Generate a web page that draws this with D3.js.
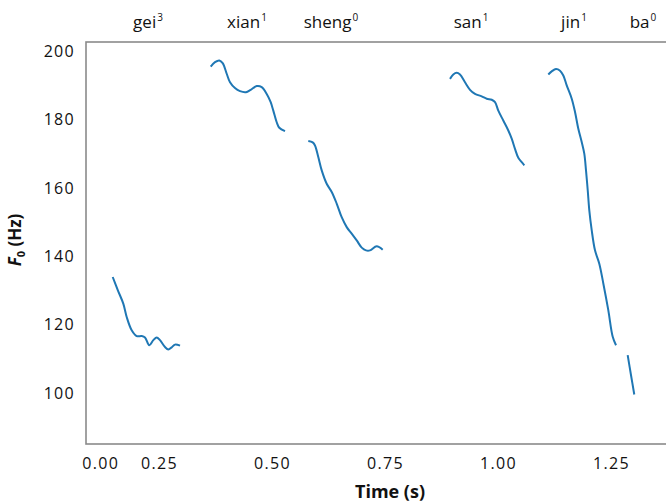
<!DOCTYPE html>
<html>
<head>
<meta charset="utf-8">
<script src="https://cdn.jsdelivr.net/npm/d3@7"></script>
<style>
  html, body { margin: 0; padding: 0; background: #fff; }
  svg { display: block; }
  text { font-family: "Open Sans", "Noto Sans", sans-serif; fill: #111; }
</style>
</head>
<body>
<svg id="chart" width="666" height="502"></svg>
<script>
// ---- data ----
const syllables = ["gei", "xian", "sheng", "san", "jin", "ba"];
const tones = ["3", "1", "0", "1", "1", "0"];
const syllableTimes = [0.2257, 0.4447, 0.6305, 0.9403, 1.1681, 1.3208];

const geiT = [0.1476, 0.159, 0.171, 0.1785, 0.1896, 0.2007, 0.2117, 0.219, 0.2285, 0.2374, 0.2449, 0.2522, 0.2633, 0.2706, 0.2781, 0.2854, 0.2965];
const geiF = [134.0, 130.1, 126.2, 122.3, 118.4, 116.7, 116.7, 116.3, 114.0, 115.5, 116.3, 115.5, 113.5, 112.8, 113.4, 114.2, 113.9];

const xianT = [0.3644, 0.3739, 0.3834, 0.3909, 0.3998, 0.4071, 0.4181, 0.4292, 0.4425, 0.4529, 0.4662, 0.4772, 0.4883, 0.4971, 0.5029, 0.5104, 0.5161, 0.5288];
const xianF = [195.6, 196.9, 197.4, 196.6, 193.5, 191.0, 189.3, 188.4, 188.1, 188.8, 189.9, 189.6, 187.6, 185.2, 182.7, 179.3, 177.7, 176.7];

const shengT = [0.5803, 0.5900, 0.5951, 0.6024, 0.6100, 0.6210, 0.6321, 0.6431, 0.6542, 0.6653, 0.6763, 0.6874, 0.6985, 0.7080, 0.7168, 0.7316, 0.7449];
const shengF = [173.8, 173.4, 172.5, 169.1, 165.2, 161.3, 158.9, 155.5, 151.5, 148.6, 146.7, 144.7, 142.6, 141.8, 141.8, 143.0, 142.0];

const sanT = [0.8938, 0.9011, 0.9086, 0.9159, 0.9270, 0.9381, 0.9491, 0.9639, 0.9750, 0.9861, 0.9934, 1.0007, 1.0117, 1.0228, 1.0303, 1.0376, 1.0449, 1.0524, 1.0582];
const sanF = [192.0, 193.3, 193.8, 193.3, 191.0, 188.8, 187.6, 186.9, 186.2, 185.9, 185.2, 182.7, 179.8, 176.9, 174.5, 171.5, 168.9, 167.6, 166.7];

const jinT = [1.1113, 1.1188, 1.1283, 1.1372, 1.1445, 1.1520, 1.1631, 1.1704, 1.1777, 1.1852, 1.1909, 1.1947, 1.1985, 1.2020, 1.2073, 1.2146, 1.2241, 1.2330, 1.2440, 1.2538, 1.2611];
const jinF = [193.3, 194.2, 194.9, 194.4, 193.0, 190.1, 186.2, 182.3, 177.4, 173.5, 170.1, 165.2, 159.4, 153.5, 147.7, 141.8, 137.9, 132.1, 124.3, 116.5, 114.0];

const baT = [1.2869, 1.2942, 1.3015];
const baF = [111.1, 105.3, 99.6];

const xTickValues = [0.12, 0.25, 0.50, 0.75, 1.00, 1.25];
const xTickLabels = ["0.00", "0.25", "0.50", "0.75", "1.00", "1.25"];
const yTickValues = [100, 120, 140, 160, 180, 200];

// ---- layout ----
const svg = d3.select("#chart");
const plot = { left: 86, top: 42, right: 676, bottom: 444 };

const x = d3.scaleLinear().domain([0.0885, 1.3938]).range([plot.left, plot.right]);
const y = d3.scaleLinear().domain([85.1, 202.8]).range([plot.bottom, plot.top]);

// frame
svg.append("rect")
  .attr("x", plot.left).attr("y", plot.top)
  .attr("width", plot.right - plot.left).attr("height", plot.bottom - plot.top)
  .attr("fill", "none").attr("stroke", "#8a8a8a").attr("stroke-width", 1.6);

// axes (no tick marks)
const xAxis = d3.axisBottom(x).tickValues(xTickValues)
  .tickFormat((d, i) => xTickLabels[i]).tickSize(0).tickPadding(14);
const gx = svg.append("g").attr("transform", `translate(0,${plot.bottom})`).call(xAxis);
gx.select(".domain").remove();
gx.selectAll("text").attr("font-size", 16).attr("letter-spacing", 1.3)
  .style("font-family", '"Open Sans", sans-serif').attr("fill", "#111");

const yAxis = d3.axisLeft(y).tickValues(yTickValues).tickSize(0).tickPadding(11);
const gy = svg.append("g").attr("transform", `translate(${plot.left},0)`).call(yAxis);
gy.select(".domain").remove();
gy.selectAll("text").attr("font-size", 16).attr("letter-spacing", 1.3)
  .style("font-family", '"Open Sans", sans-serif').attr("fill", "#111");

// axis titles
svg.append("text")
  .attr("x", 390).attr("y", 498)
  .attr("text-anchor", "middle").attr("font-size", 18).attr("font-weight", "bold")
  .text("Time (s)");

const yt = svg.append("text")
  .attr("transform", `translate(21,240) rotate(-90)`)
  .attr("text-anchor", "middle").attr("font-size", 17).attr("font-weight", "bold");
yt.append("tspan").attr("font-style", "italic").text("F");
yt.append("tspan").attr("font-size", 11).attr("dy", 4).text("0");
yt.append("tspan").attr("dy", -4).text(" (Hz)");

// syllable labels
syllables.forEach((s, i) => {
  const t = svg.append("text")
    .attr("x", x(syllableTimes[i])).attr("y", 28)
    .attr("text-anchor", "middle").attr("font-size", 17);
  t.append("tspan").text(s);
  t.append("tspan").attr("font-size", 10).attr("dy", -7).attr("dx", 1).text(tones[i]);
});

// F0 segments
const segments = [
  [geiT, geiF], [xianT, xianF], [shengT, shengF],
  [sanT, sanF], [jinT, jinF], [baT, baF]
];
const line = d3.line().x(d => x(d[0])).y(d => y(d[1])).curve(d3.curveCatmullRom.alpha(0.5));
segments.forEach(([ts, fs]) => {
  svg.append("path")
    .datum(ts.map((t, i) => [t, fs[i]]))
    .attr("fill", "none").attr("stroke", "#1f77b4").attr("stroke-width", 2)
    .attr("stroke-linecap", "butt")
    .attr("d", line);
});
</script>
</body>
</html>
